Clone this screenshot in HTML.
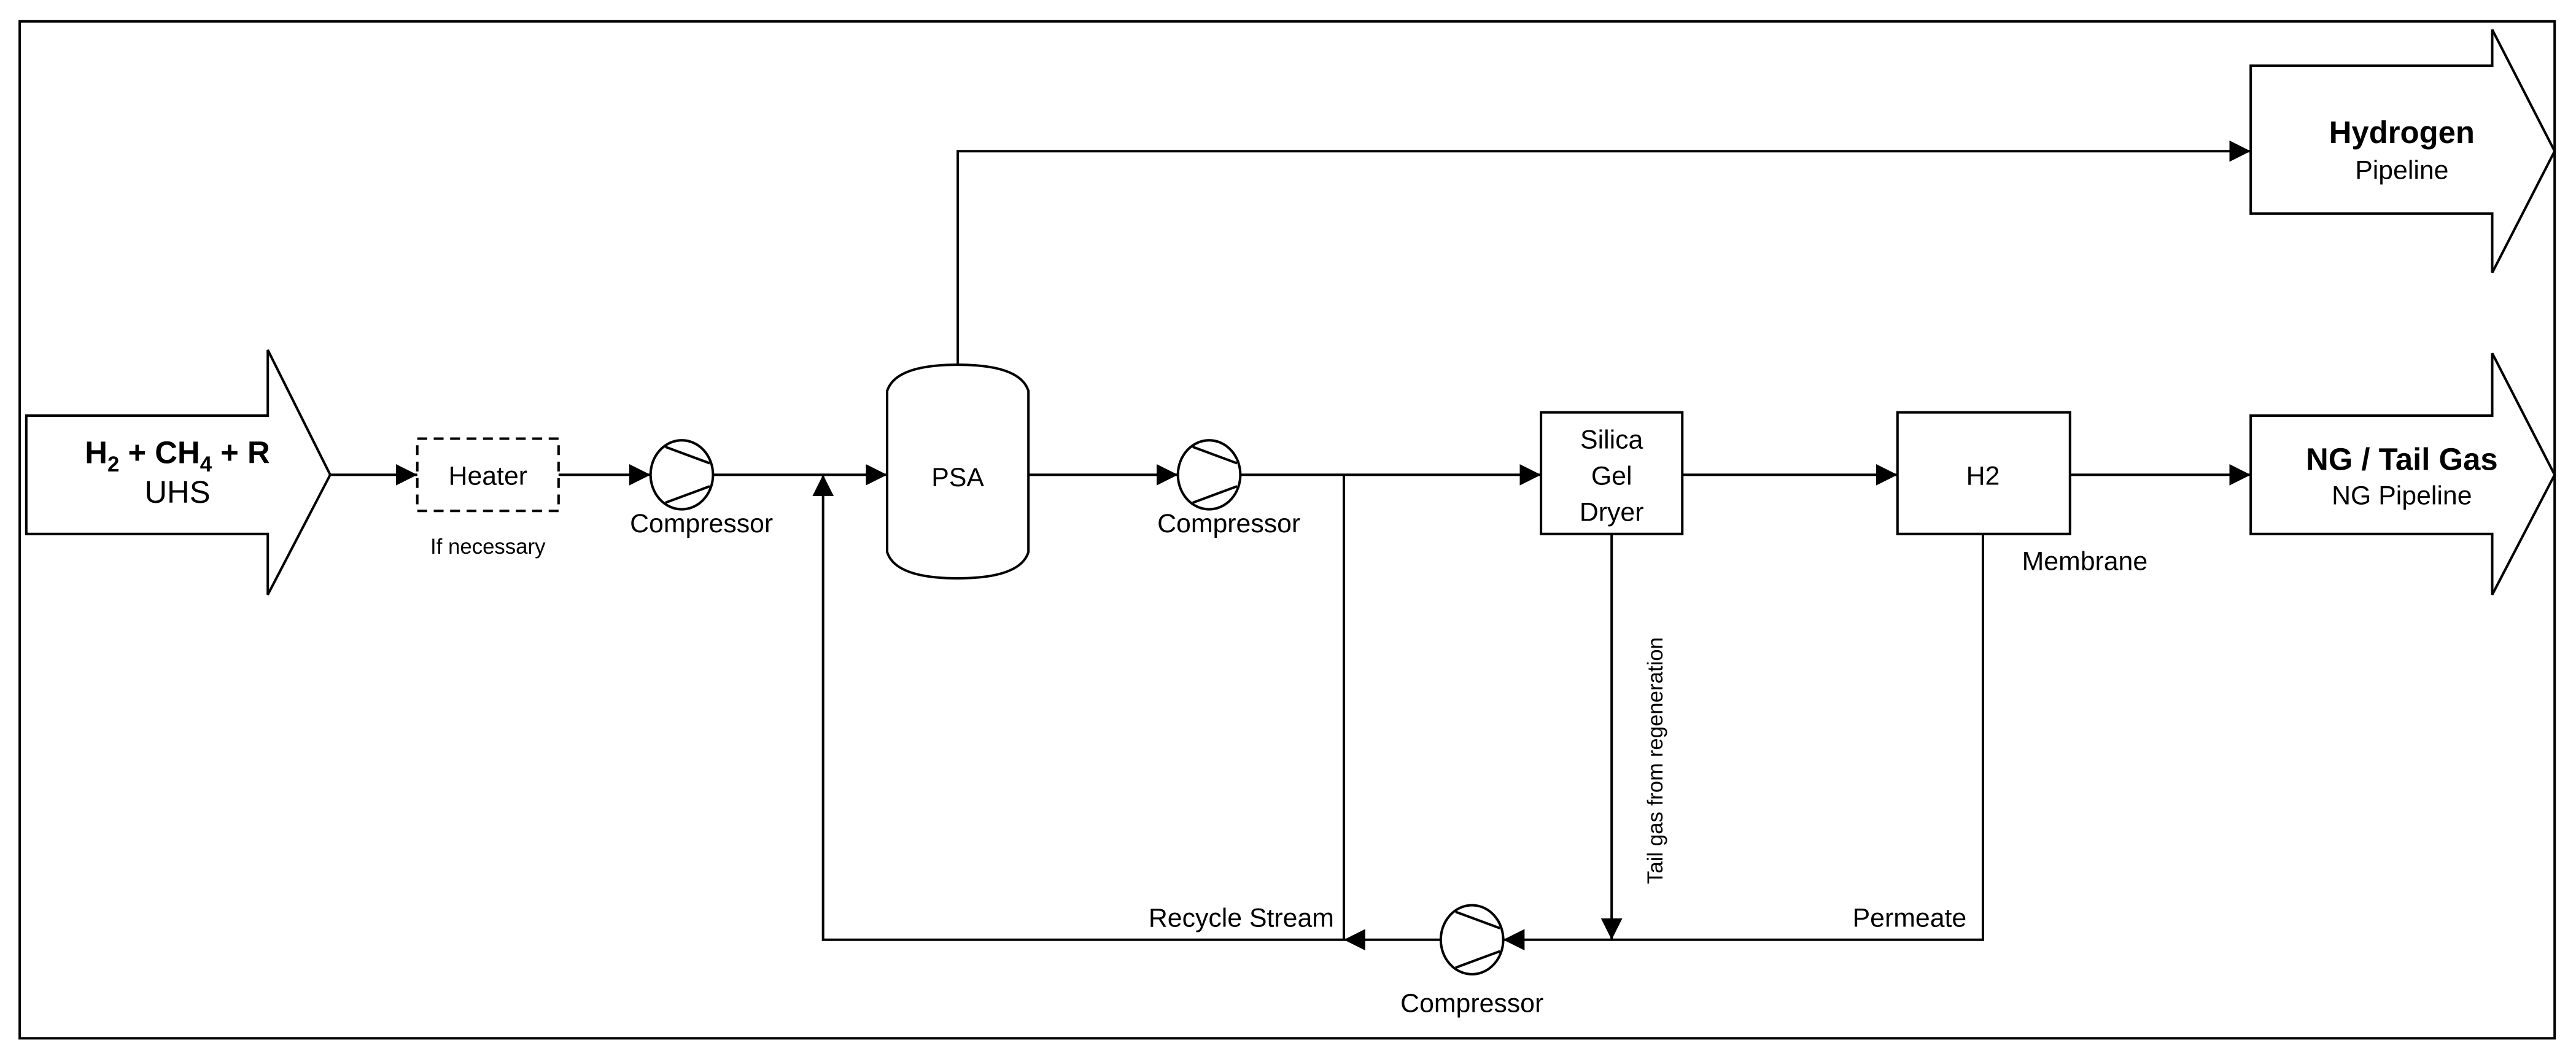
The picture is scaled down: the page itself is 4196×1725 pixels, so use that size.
<!DOCTYPE html>
<html><head><meta charset="utf-8"><style>
html,body{margin:0;padding:0;background:#fff;}
svg{display:block;}
text{font-family:"Liberation Sans",Arial,sans-serif;fill:#000;}
</style></head><body>
<svg width="4196" height="1725" viewBox="0 0 1568 644.6" preserveAspectRatio="none" xmlns="http://www.w3.org/2000/svg">
<defs>
<marker id="a" viewBox="0 0 10 10" refX="10" refY="5" markerWidth="13" markerHeight="13" markerUnits="userSpaceOnUse" orient="auto"><path d="M0,0 L10,5 L0,10 z" fill="#000"/></marker>
</defs>
<rect x="12" y="13" width="1543" height="619" fill="none" stroke="#000" stroke-width="1.5"/>
<g fill="none" stroke="#000" stroke-width="1.5">
<!-- input arrow -->
<path d="M16,253 H163 V213 L201,289 L163,362 V325 H16 Z" fill="#fff"/>
<!-- hydrogen arrow -->
<path d="M1370,40 H1517 V18 L1555,92 L1517,166 V130 H1370 Z" fill="#fff"/>
<!-- NG arrow -->
<path d="M1370,253 H1517 V215 L1555,289 L1517,362 V325 H1370 Z" fill="#fff"/>
<!-- heater -->
<rect x="254" y="267" width="86" height="44" stroke-dasharray="6,4"/>
<!-- PSA -->
<path d="M540,238 Q545,222 583,222 Q621,222 626,238 V336 Q621,352 583,352 Q545,352 540,336 Z"/>
<!-- boxes -->
<rect x="938" y="251" width="86" height="74"/>
<rect x="1155" y="251" width="105" height="74"/>
<!-- compressors -->
<ellipse cx="415" cy="289" rx="19" ry="21"/>
<path d="M405,272 L432,282 M405,306 L432,296"/>
<ellipse cx="736" cy="289" rx="19" ry="21"/>
<path d="M726,272 L753,282 M726,306 L753,296"/>
<ellipse cx="896" cy="572" rx="19" ry="21"/>
<path d="M886,555 L913,565 M886,589 L913,579"/>
<!-- lines -->
<path d="M201,289 H254" marker-end="url(#a)"/>
<path d="M340,289 H396" marker-end="url(#a)"/>
<path d="M434,289 H540" marker-end="url(#a)"/>
<path d="M583,222 V92 H1370" marker-end="url(#a)"/>
<path d="M626,289 H717" marker-end="url(#a)"/>
<path d="M755,289 H938" marker-end="url(#a)"/>
<path d="M1024,289 H1155" marker-end="url(#a)"/>
<path d="M1260,289 H1370" marker-end="url(#a)"/>
<path d="M818,289 V572"/>
<path d="M981,325 V572" marker-end="url(#a)"/>
<path d="M1207,325 V572 H915" marker-end="url(#a)"/>
<path d="M877,572 H818" marker-end="url(#a)"/>
<path d="M818,572 H501 V289" marker-end="url(#a)"/>
</g>
<g text-anchor="middle" font-size="17">
<text x="108" y="282" font-weight="bold" font-size="19">H<tspan font-size="13" dy="5">2</tspan><tspan dy="-5"> + CH</tspan><tspan font-size="13" dy="5">4</tspan><tspan dy="-5"> + R</tspan></text>
<text x="108" y="306" font-size="19">UHS</text>
<text x="297" y="295" font-size="16">Heater</text>
<text x="297" y="337" font-size="13">If necessary</text>
<text x="427" y="324" font-size="16">Compressor</text>
<text x="583" y="296" font-size="16">PSA</text>
<text x="748" y="324" font-size="16">Compressor</text>
<text x="981" y="273" font-size="16">Silica</text>
<text x="981" y="295" font-size="16">Gel</text>
<text x="981" y="317" font-size="16">Dryer</text>
<text x="1207" y="295" font-size="16">H2</text>
<text x="1269" y="347" font-size="16">Membrane</text>
<text x="1462" y="87" font-weight="bold" font-size="19">Hydrogen</text>
<text x="1462" y="109" font-size="16">Pipeline</text>
<text x="1462" y="286" font-weight="bold" font-size="19">NG / Tail Gas</text>
<text x="1462" y="307" font-size="16">NG Pipeline</text>
<text x="896" y="616" font-size="16">Compressor</text>
<text x="1012" y="463" font-size="13" transform="rotate(-90 1012 463)">Tail gas from regeneration</text>
</g>
<g text-anchor="end" font-size="16">
<text x="1197" y="564">Permeate</text>
<text x="812" y="564">Recycle Stream</text>
</g>
</svg>
</body></html>
